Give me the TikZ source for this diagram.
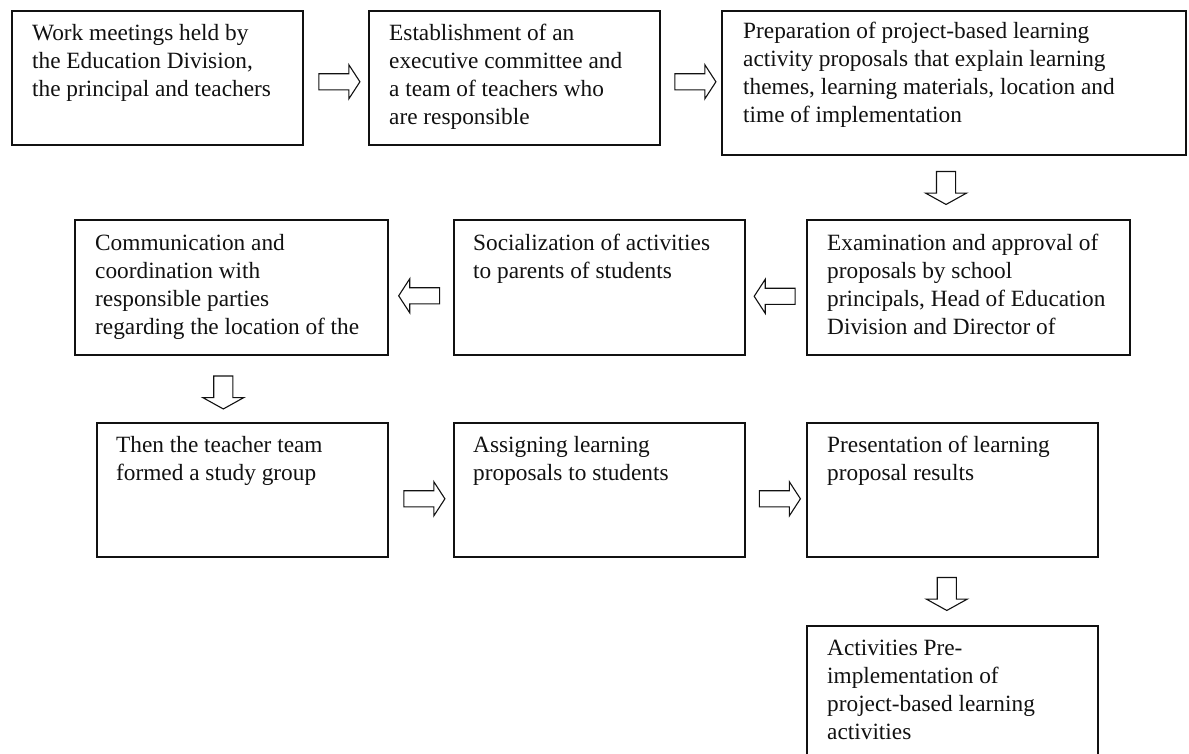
\documentclass[tikz,border=0pt]{standalone}
\usepackage{fontspec}
\setmainfont{Liberation Serif}
\usetikzlibrary{shapes.arrows,calc}
\definecolor{ink}{HTML}{111111}
\tikzset{
  box/.style={draw=ink, line width=1.6pt, rectangle, inner sep=0pt, anchor=north west},
  txt/.style={anchor=base west, inner sep=0pt, text=ink, font=\fontsize{23.3}{28}\selectfont},
  harrow/.style={single arrow, draw=ink, line width=1.1pt, inner xsep=0pt, inner ysep=7.5pt,
    minimum height=41pt, single arrow head extend=9pt, single arrow tip angle=114,
    single arrow head indent=0pt},
  varrow/.style={single arrow, draw=ink, line width=1.1pt, inner ysep=0pt, inner xsep=9pt,
    minimum height=33pt, single arrow head extend=11pt, single arrow tip angle=122,
    single arrow head indent=0pt, shape border rotate=270},
  larrow/.style={harrow, shape border rotate=180},
  rarrow/.style={harrow}
}
\newcommand{\boxtext}[1]{\parbox[t]{500pt}{\raggedright #1}}
\begin{document}
\begin{tikzpicture}[x=1pt, y=-1pt]
\clip (0,0) rectangle (1189,753);
\fill[white] (0,0) rectangle (1189,753);

% boxes
\node[box, minimum width=291pt, minimum height=134pt] (b1) at (11,10) {};
\node[box, minimum width=291pt, minimum height=134pt] (b2) at (368,10) {};
\node[box, minimum width=464pt, minimum height=144pt] (b3) at (721,10) {};
\node[box, minimum width=313pt, minimum height=135pt] (b4) at (74,219) {};
\node[box, minimum width=291pt, minimum height=135pt] (b5) at (453,219) {};
\node[box, minimum width=323pt, minimum height=135pt] (b6) at (806,219) {};
\node[box, minimum width=291pt, minimum height=134pt] (b7) at (96,422) {};
\node[box, minimum width=291pt, minimum height=134pt] (b8) at (453,422) {};
\node[box, minimum width=291pt, minimum height=134pt] (b9) at (806,422) {};
\node[box, minimum width=291pt, minimum height=145pt] (b10) at (806,625) {};

% texts
\node[txt] (t1) at ([shift={(21,30)}]b1.north west) {\boxtext{Work meetings held by\\the Education Division,\\the principal and teachers}};
\node[txt] (t2) at ([shift={(21,30)}]b2.north west) {\boxtext{Establishment of an\\executive committee and\\a team of teachers who\\are responsible}};
\node[txt] (t3) at ([shift={(22,28)}]b3.north west) {\boxtext{Preparation of project-based learning\\activity proposals that explain learning\\themes, learning materials, location and\\time of implementation}};
\node[txt] (t4) at ([shift={(21,31)}]b4.north west) {\boxtext{Communication and\\coordination with\\responsible parties\\regarding the location of the}};
\node[txt] (t5) at ([shift={(20,31)}]b5.north west) {\boxtext{Socialization of activities\\to parents of students}};
\node[txt] (t6) at ([shift={(21,31)}]b6.north west) {\boxtext{Examination and approval of\\proposals by school\\principals, Head of Education\\Division and Director of}};
\node[txt] (t7) at ([shift={(20,30)}]b7.north west) {\boxtext{Then the teacher team\\formed a study group}};
\node[txt] (t8) at ([shift={(20,30)}]b8.north west) {\boxtext{Assigning learning\\proposals to students}};
\node[txt] (t9) at ([shift={(21,30)}]b9.north west) {\boxtext{Presentation of learning\\proposal results}};
\node[txt] (t10) at ([shift={(21,30)}]b10.north west) {\boxtext{Activities Pre-\\implementation of\\project-based learning\\activities}};

% block arrows between boxes
\node[rarrow] (a1) at ($(b1.east)!.5!(b2.west)+(1,4)$) {};
\node[rarrow] (a2) at ($(b2.east)!.5!(b3.west)+(2,1.5)$) {};
\node[varrow] (a3) at ($(b3.south)!.5!(b6.north)+(-15,-2)$) {};
\node[larrow] (a4) at ($(b6.west)!.5!(b5.east)+(1.5,9)$) {};
\node[larrow] (a5) at ($(b5.west)!.5!(b4.east)+(1,8.5)$) {};
\node[varrow] (a6) at ($(b4.south)!.5!(b7.north)+(-13.5,1)$) {};
\node[rarrow] (a7) at ($(b7.east)!.5!(b8.west)+(1,9)$) {};
\node[rarrow] (a8) at ($(b8.east)!.5!(b9.west)+(1.5,9)$) {};
\node[varrow] (a9) at ($(b9.south)!.5!(b10.north)+(-5.5,0)$) {};
\end{tikzpicture}
\end{document}
